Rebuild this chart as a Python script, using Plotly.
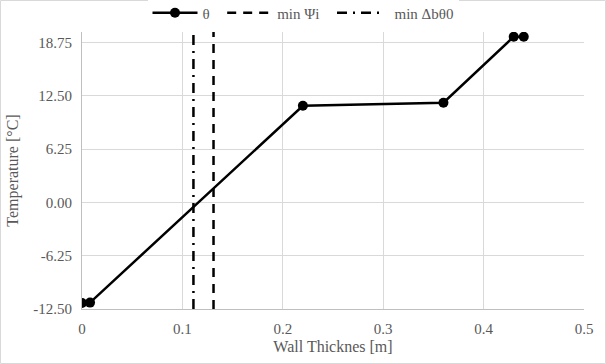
import plotly.graph_objects as go

thickness = [0.0, 0.008, 0.22, 0.36, 0.43, 0.44]
theta = [-11.8, -11.75, 11.35, 11.7, 19.45, 19.45]
min_psi_x = 0.131
min_db_x = 0.111
y_lo, y_hi = -12.5, 20.0
y_ticks = [-12.5, -6.25, 0.0, 6.25, 12.5, 18.75]
y_tick_labels = ["-12.50", "-6.25", "0.00", "6.25", "12.50", "18.75"]
x_ticks = [0, 0.1, 0.2, 0.3, 0.4, 0.5]
x_tick_labels = ["0", "0.1", "0.2", "0.3", "0.4", "0.5"]

font = "Liberation Serif"
grey = "#595959"
nb = "\u00a0"

fig = go.Figure()
fig.add_trace(go.Scatter(x=thickness, y=theta, mode="lines+markers", name="θ" + nb * 2,
                         line=dict(color="black", width=2.5),
                         marker=dict(color="black", size=10)))
fig.add_trace(go.Scatter(x=[min_psi_x, min_psi_x], y=[y_lo, y_hi], mode="lines", name="min Ψi" + nb * 2,
                         line=dict(color="black", width=2.5, dash="9px,7px")))
fig.add_trace(go.Scatter(x=[min_db_x, min_db_x], y=[y_lo, y_hi], mode="lines", name=nb * 2 + "min Δbθ0",
                         line=dict(color="black", width=2.5, dash="10px,6px,2px,6px")))

W, H = 606, 364
ml, mr, mt, mb = 82, 22, 32, 55
pw = W - ml - mr
ph = H - mt - mb
fig.add_shape(type="rect", xref="paper", yref="paper",
              x0=(-ml + 0.5) / pw, x1=(W - ml - 0.5) / pw,
              y0=(-mb + 0.5) / ph, y1=(H - mb - 0.5) / ph,
              line=dict(color="#d9d9d9", width=1), layer="below")

fig.update_layout(
    width=W, height=H,
    margin=dict(l=ml, r=mr, t=mt, b=mb, autoexpand=False),
    paper_bgcolor="white", plot_bgcolor="white",
    font=dict(family=font, size=15, color=grey),
    legend=dict(orientation="h", x=(W / 2 - ml) / pw, xanchor="center",
                y=(H - mb - 13) / ph, yanchor="middle", itemwidth=45,
                font=dict(family=font, size=15, color=grey), tracegroupgap=0),
    showlegend=True,
)
fig.update_xaxes(range=[0, 0.5], tickvals=x_ticks, ticktext=x_tick_labels,
                 showgrid=True, gridcolor="#d9d9d9", gridwidth=1,
                 showline=True, linecolor="#bfbfbf", zeroline=False, automargin=False,
                 ticks="outside", ticklen=6, tickcolor="rgba(0,0,0,0)",
                 tickfont=dict(family=font, size=15, color=grey),
                 title=dict(text="Wall Thicknes [m]", font=dict(family=font, size=16, color=grey), standoff=4))
fig.update_yaxes(range=[y_lo, y_hi], tickvals=y_ticks, ticktext=y_tick_labels,
                 showgrid=True, gridcolor="#d9d9d9", gridwidth=1,
                 showline=True, linecolor="#bfbfbf", zeroline=False, automargin=False,
                 ticks="outside", ticklen=6, tickcolor="rgba(0,0,0,0)",
                 tickfont=dict(family=font, size=15, color=grey),
                 title=dict(text="Temperature [°C]", font=dict(family=font, size=16, color=grey), standoff=10))

fig.write_html("out.html", config={"displayModeBar": False},
               post_script="document.body.style.margin='0';document.body.style.padding='0';")
